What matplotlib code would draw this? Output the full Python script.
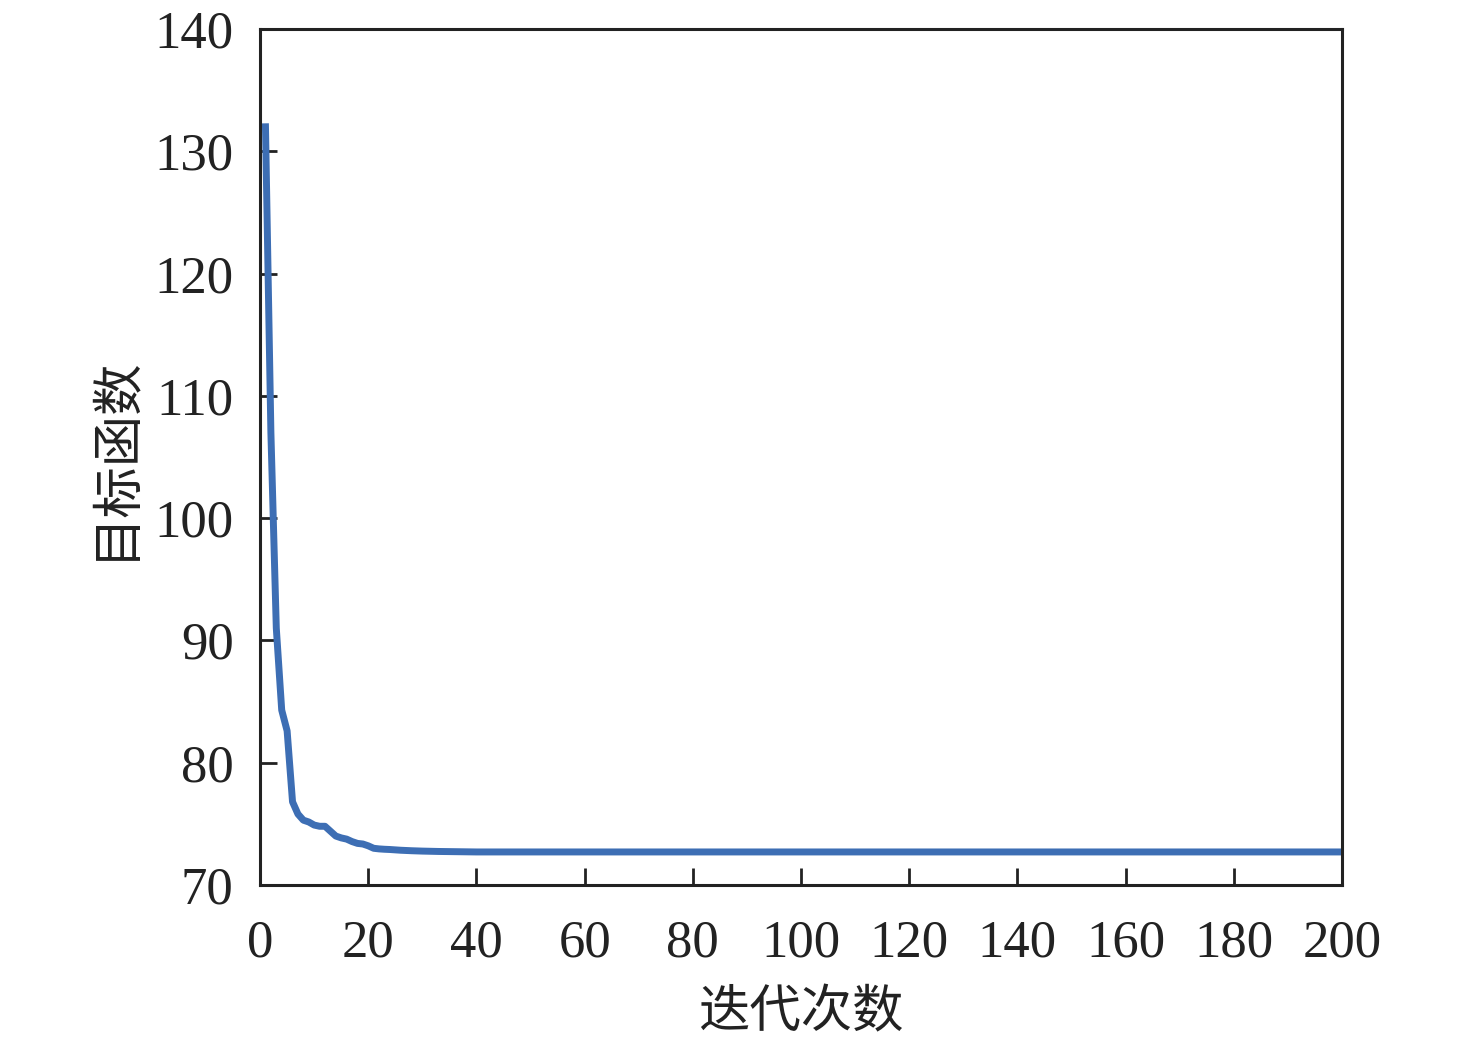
import numpy as np
import matplotlib.pyplot as plt

plt.rcParams['font.family'] = ['Liberation Serif', 'Noto Sans CJK SC', 'DejaVu Sans']

# data
iters_head = [1, 2, 3, 4, 5, 6, 7, 8, 9, 10, 11, 12, 13, 14, 15, 16, 17, 18, 19, 20,
              21, 22, 23, 24, 25, 26, 28, 30, 33, 36, 40]
obj_head = [132.0, 107.0, 91.0, 84.3, 82.6, 76.8, 75.8, 75.3, 75.15, 74.9, 74.8, 74.8,
            74.4, 74.0, 73.85, 73.75, 73.55, 73.4, 73.35, 73.2, 73.0, 72.95, 72.92,
            72.9, 72.87, 72.84, 72.8, 72.77, 72.74, 72.72, 72.7]
obj_tail = 72.7
n_iter = 200

x = np.concatenate([iters_head, np.arange(41, n_iter + 1)])
y = np.concatenate([obj_head, np.full(n_iter - 40, obj_tail)])

fig = plt.figure(figsize=(14.76, 10.42), dpi=100)
ax = fig.add_axes([0.1762, 0.1507, 0.733, 0.8215])
ax.plot(x, y, color='#3d6eb4', lw=5, solid_joinstyle='round')

ax.set_xlim(0, 200)
ax.set_ylim(70, 140)
ax.set_xticks(np.arange(0, 201, 20))
ax.set_yticks(np.arange(70, 141, 10))
ax.tick_params(direction='in', length=12, width=2, labelsize=38, colors='#222222')
ax.tick_params(axis='x', pad=25)
ax.tick_params(axis='y', pad=19)
for s in ax.spines.values():
    s.set_linewidth(2.2)
    s.set_color('#222222')

ax.set_xlabel('迭代次数', fontsize=37, family=['Noto Sans CJK SC'], labelpad=13, color='#222222')
ax.set_ylabel('目标函数', fontsize=37, family=['Noto Sans CJK SC'], labelpad=10, color='#222222')

fig.savefig('out.png', dpi=100)
